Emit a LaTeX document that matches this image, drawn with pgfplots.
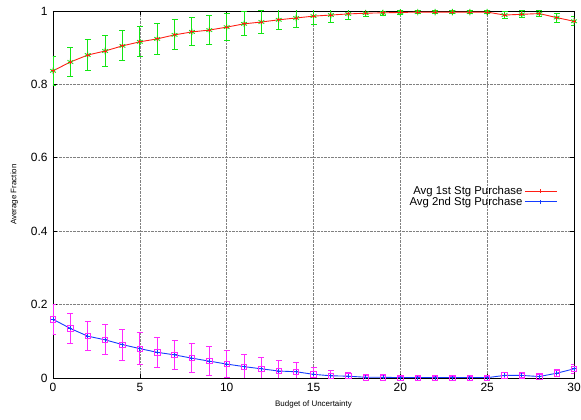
\documentclass[border=0pt]{standalone}
\usepackage{fontspec}
\setmainfont{Liberation Sans}
\usepackage{pgfplots}
\usepackage{pgfplotstable}
\usetikzlibrary{calc}
\pgfplotsset{compat=1.18}
\pgfplotsset{longleg/.style={legend image code/.code={\draw[mark repeat=2,mark phase=2,##1] plot coordinates {(0bp,0bp) (16bp,0bp) (32bp,0bp)};}}}
\definecolor{gpred}{RGB}{255,30,20}
\definecolor{gpgreen}{RGB}{20,230,20}
\definecolor{gpblue}{RGB}{20,60,255}
\definecolor{gpmag}{RGB}{255,40,255}
\pgfplotstableread{
x y e
0 0.837 0.040
1 0.861 0.040
2 0.880 0.041
3 0.891 0.042
4 0.905 0.041
5 0.916 0.041
6 0.924 0.042
7 0.935 0.041
8 0.943 0.038
9 0.948 0.040
10 0.956 0.037
11 0.965 0.033
12 0.970 0.031
13 0.976 0.027
14 0.981 0.027
15 0.986 0.022
16 0.989 0.019
17 0.992 0.016
18 0.994 0.010
19 0.995 0.008
20 0.996 0.006
21 0.997 0.005
22 0.997 0.004
23 0.997 0.004
24 0.997 0.004
25 0.997 0.004
26 0.989 0.010
27 0.991 0.009
28 0.993 0.007
29 0.982 0.012
30 0.972 0.012
}\first
\pgfplotstableread{
x y e
0 0.160 0.040
1 0.135 0.040
2 0.114 0.040
3 0.104 0.041
4 0.091 0.042
5 0.080 0.044
6 0.070 0.040
7 0.063 0.039
8 0.054 0.039
9 0.046 0.040
10 0.038 0.037
11 0.031 0.034
12 0.025 0.031
13 0.019 0.028
14 0.017 0.025
15 0.010 0.018
16 0.006 0.015
17 0.005 0.011
18 0.002 0.006
19 0.002 0.005
20 0.001 0.004
21 0.001 0.002
22 0.001 0.002
23 0.001 0.002
24 0.001 0.002
25 0.001 0.002
26 0.007 0.007
27 0.007 0.006
28 0.004 0.005
29 0.013 0.010
30 0.025 0.012
}\second
\begin{document}
\begin{tikzpicture}
\begin{axis}[
  scale only axis, width=521bp, height=367bp,
  xmin=0, xmax=30, ymin=0, ymax=1,
  xtick={0,5,...,30}, ytick={0,0.2,0.4,0.6,0.8,1},
  tick align=inside, major tick length=4bp,
  grid=major, grid style={black!50, densely dotted, line width=0.6pt},
  axis line style={line width=0.8pt},
  tick style={black, line width=0.6pt},
  /pgf/number format/assume math mode=true,
  ticklabel style={font=\fontsize{12}{13}\selectfont},
  yticklabel style={xshift=-2bp},
  xticklabel style={yshift=-2bp},
  xlabel={Budget of Uncertainty}, ylabel={Average Fraction},
  label style={font=\fontsize{8}{9}\selectfont},
  xlabel style={yshift=-2bp},
  ylabel style={yshift=6bp},
  legend style={draw=none, fill=none, at={(0.974,0.534)}, anchor=north east,
    font=\fontsize{11.4}{11}\selectfont, row sep=-3bp, legend cell align=right},
  legend plot pos=right,
]
\coordinate (sw) at (rel axis cs:0,0);
\coordinate (ne) at (rel axis cs:1,1);
\addplot[gpgreen, only marks, mark=asterisk, mark size=3.3bp, line width=0.9pt, forget plot,
  error bars/.cd, y dir=both, y explicit,
  error bar style={gpgreen, line width=1pt},
  error mark options={gpgreen, rotate=90, mark size=3bp, line width=1pt}]
  table[x=x, y=y, y error=e] {\first};
\addplot[gpmag, only marks, mark=square, mark size=2.7bp, line width=0.8pt, forget plot,
  error bars/.cd, y dir=both, y explicit,
  error bar style={gpmag, line width=0.9pt},
  error mark options={gpmag, rotate=90, mark size=3bp, line width=0.9pt}]
  table[x=x, y=y, y error=e] {\second};
\addplot[gpred, line width=0.9pt, mark=+, mark size=2bp, longleg]
  table[x=x, y=y] {\first};
\addlegendentry{Avg 1st Stg Purchase}
\addplot[gpblue, line width=0.9pt, mark=+, mark size=2bp, longleg]
  table[x=x, y=y] {\second};
\addlegendentry{Avg 2nd Stg Purchase}
\end{axis}
\pgfresetboundingbox
\path[use as bounding box] ($(sw)+(-53bp,-42bp)$) rectangle ($(ne)+(7bp,11bp)$);
\end{tikzpicture}
\end{document}
